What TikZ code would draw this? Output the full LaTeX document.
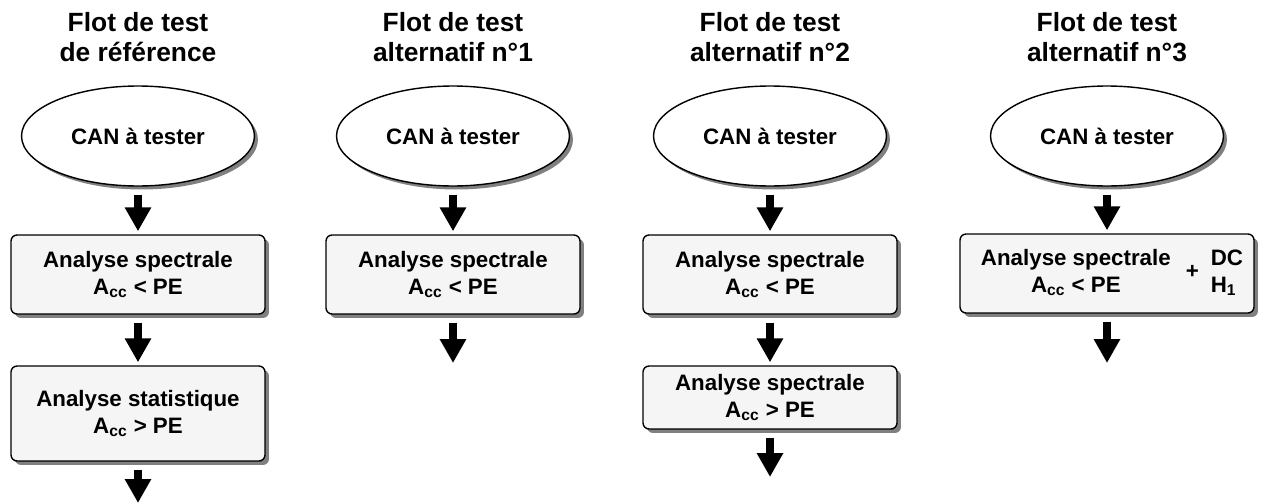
\documentclass[tikz,border=0pt]{standalone}
\usepackage{fontspec}
\setmainfont{Liberation Sans}
\usetikzlibrary{arrows.meta,shapes.geometric,shadows}
\definecolor{stagefill}{RGB}{245,245,245}
\definecolor{shadowgray}{RGB}{128,128,128}

\begin{document}
\begin{tikzpicture}[x=0.02cm, y=-0.02cm,
  flowtitle/.style={align=center, inner sep=0pt,
    font=\bfseries\fontsize{15}{17}\selectfont},
  dut/.style={ellipse, draw, line width=0.8pt, fill=white,
    minimum width=4.66cm, minimum height=2cm, inner sep=0pt,
    drop shadow={shadow xshift=0.07cm, shadow yshift=-0.07cm,
      fill=shadowgray, opacity=1},
    font=\bfseries\fontsize{12.7}{15.3}\selectfont},
  stage/.style={rectangle, rounded corners=0.12cm, draw, line width=0.8pt,
    fill=stagefill, minimum width=5.08cm, inner sep=0pt, align=center,
    drop shadow={shadow xshift=0.08cm, shadow yshift=-0.08cm,
      fill=shadowgray, opacity=1},
    font=\bfseries\fontsize{12.7}{15.3}\selectfont},
  flow/.style={line width=4.5pt, -{Triangle[width=0.5cm,length=0.48cm]},
    shorten <=0.16cm, shorten >=0.06cm}]

% ── Column centres (pixels of the original figure) ──────────────────────────
\pgfmathsetmacro{\cA}{138}   % reference flow
\pgfmathsetmacro{\cB}{453}   % alternative 1
\pgfmathsetmacro{\cC}{770}   % alternative 2
\pgfmathsetmacro{\cD}{1107}  % alternative 3

\useasboundingbox (0,0) rectangle (1262,504);

% ════════════════════════════════════════════════════════════════════════════
% TITLES
% ════════════════════════════════════════════════════════════════════════════
\node[flowtitle] (titleA) at (\cA,37.5) {Flot de test\\de référence};
\node[flowtitle] (titleB) at (\cB,37.5) {Flot de test\\alternatif n°1};
\node[flowtitle] (titleC) at (\cC,37.5) {Flot de test\\alternatif n°2};
\node[flowtitle] (titleD) at (\cD,37.5) {Flot de test\\alternatif n°3};

% ════════════════════════════════════════════════════════════════════════════
% DEVICE UNDER TEST
% ════════════════════════════════════════════════════════════════════════════
\node[dut] (canA) at (\cA,136) {CAN à tester};
\node[dut] (canB) at (\cB,136) {CAN à tester};
\node[dut] (canC) at (\cC,136) {CAN à tester};
\node[dut] (canD) at (\cD,136) {CAN à tester};

% ── Reference flow ──────────────────────────────────────────────────────────
\node[stage, minimum height=1.58cm] (specA) at (\cA,274.5)
  {Analyse spectrale\\A\textsubscript{cc} < PE};
\node[stage, minimum height=1.9cm] (statA) at (\cA,413.5)
  {Analyse statistique\\A\textsubscript{cc} > PE};
\coordinate (endA) at (\cA,506);
\draw[flow] (canA) -- (specA);
\draw[flow] (specA) -- (statA);
\draw[flow] (statA) -- (endA);

% ── Alternative 1 ───────────────────────────────────────────────────────────
\node[stage, minimum height=1.58cm] (specB) at (\cB,274.5)
  {Analyse spectrale\\A\textsubscript{cc} < PE};
\coordinate (endB) at (\cB,366);
\draw[flow] (canB) -- (specB);
\draw[flow] (specB) -- (endB);

% ── Alternative 2 ───────────────────────────────────────────────────────────
\node[stage, minimum height=1.58cm] (specC) at (\cC,274.5)
  {Analyse spectrale\\A\textsubscript{cc} < PE};
\node[stage, minimum height=1.26cm] (specCC) at (\cC,397.5)
  {Analyse spectrale\\A\textsubscript{cc} > PE};
\coordinate (endC) at (\cC,480);
\draw[flow] (canC) -- (specC);
\draw[flow] (specC) -- (specCC);
\draw[flow] (specCC) -- (endC);

% ── Alternative 3 ───────────────────────────────────────────────────────────
\node[stage, minimum width=5.88cm, minimum height=1.58cm] (specD) at (\cD,273.5)
  {\hspace{0.2cm}\begin{tabular}{@{}c@{}}Analyse spectrale\\A\textsubscript{cc} < PE\end{tabular}%
   \hspace{0.3cm}+\hspace{0.24cm}%
   \begin{tabular}{@{}l@{}}DC\\H\textsubscript{1}\end{tabular}};
\coordinate (endD) at (\cD,366);
\draw[flow] (canD) -- (specD);
\draw[flow] (specD) -- (endD);

\end{tikzpicture}
\end{document}
